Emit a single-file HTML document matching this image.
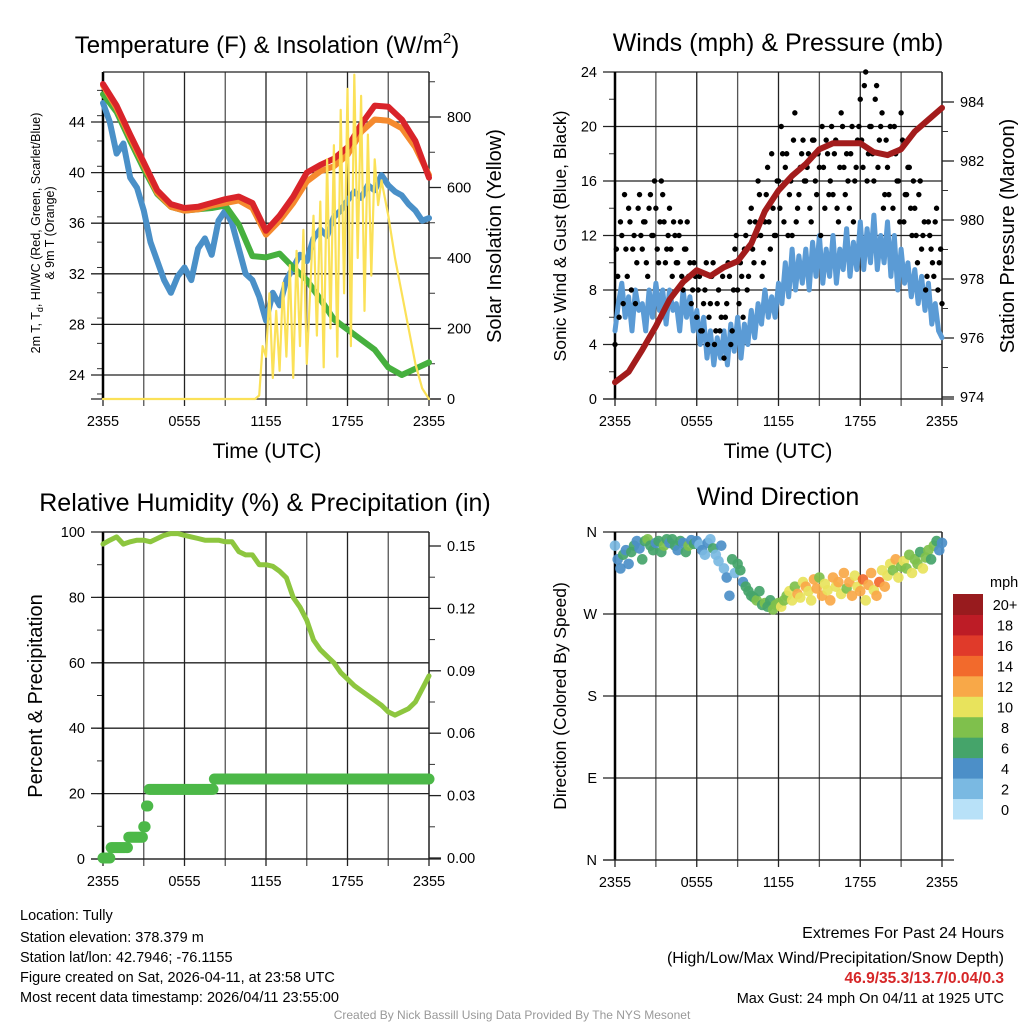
<!DOCTYPE html>
<html><head><meta charset="utf-8"><style>
html,body{margin:0;padding:0;background:#fff}
svg{display:block;font-family:"Liberation Sans",Arial,sans-serif}
</style></head><body>
<svg id="s" width="1024" height="1024" viewBox="0 0 1024 1024" xmlns="http://www.w3.org/2000/svg">
<rect width="1024" height="1024" fill="#fff"/>
<text x="267" y="53" font-size="24" text-anchor="middle">Temperature (F) &amp; Insolation (W/m<tspan dy="-10" font-size="15">2</tspan><tspan dy="10">)</tspan></text>
<text x="778" y="51" font-size="25" text-anchor="middle">Winds (mph) &amp; Pressure (mb)</text>
<text x="265" y="511" font-size="25" text-anchor="middle">Relative Humidity (%) &amp; Precipitation (in)</text>
<text x="778" y="505" font-size="25" text-anchor="middle">Wind Direction</text>
<text x="267" y="458" font-size="21" text-anchor="middle">Time (UTC)</text>
<text x="778" y="458" font-size="21" text-anchor="middle">Time (UTC)</text>
<text transform="translate(40,233) rotate(-90)" font-size="12.5" text-anchor="middle">2m T, T<tspan dy="3" font-size="9">d</tspan><tspan dy="-3">, HI/WC (Red, Green, Scarlet/Blue)</tspan></text>
<text transform="translate(54,233) rotate(-90)" font-size="12.5" text-anchor="middle">&amp; 9m T (Orange)</text>
<text transform="translate(501,236) rotate(-90)" font-size="20" text-anchor="middle">Solar Insolation (Yellow)</text>
<text transform="translate(566,236) rotate(-90)" font-size="17.5" text-anchor="middle">Sonic Wind &amp; Gust (Blue, Black)</text>
<text transform="translate(1014,236) rotate(-90)" font-size="20" text-anchor="middle">Station Pressure (Maroon)</text>
<text transform="translate(42,696) rotate(-90)" font-size="20" text-anchor="middle">Percent &amp; Precipitation</text>
<text transform="translate(566,696) rotate(-90)" font-size="17.5" text-anchor="middle">Direction (Colored By Speed)</text>
<g font-size="14.5">
<text x="20" y="920">Location: Tully</text>
<text x="20" y="942">Station elevation: 378.379 m</text>
<text x="20" y="962">Station lat/lon: 42.7946; -76.1155</text>
<text x="20" y="982">Figure created on Sat, 2026-04-11, at 23:58 UTC</text>
<text x="20" y="1002">Most recent data timestamp: 2026/04/11 23:55:00</text>
</g>
<g text-anchor="end">
<text x="1004" y="938" font-size="16">Extremes For Past 24 Hours</text>
<text x="1004" y="963" font-size="16">(High/Low/Max Wind/Precipitation/Snow Depth)</text>
<text x="1004" y="983" font-size="15.5" font-weight="bold" fill="#d62728">46.9/35.3/13.7/0.04/0.3</text>
<text x="1004" y="1003" font-size="14.5">Max Gust: 24 mph On 04/11 at 1925 UTC</text>
</g>
<text x="512" y="1019" font-size="12" fill="#999" text-anchor="middle">Created By Nick Bassill Using Data Provided By The NYS Mesonet</text>
</svg>
<script>
// ---- data ----
const hours = [0,1,2,3,4,5,6,7,8,9,10,11,12,13,14,15,16,17,18,19,20,21,22,23,24];
const tempRed = [47,45.3,43.0,40.8,38.6,37.5,37.2,37.3,37.6,37.9,38.1,37.6,35.4,36.6,38.1,40.0,40.6,41.1,42.0,43.8,45.3,45.2,44.2,42.5,39.6];
const tempOrange = [46.9,45.1,42.8,40.6,38.4,37.3,37.0,37.1,37.4,37.6,37.8,37.2,35.1,36.2,37.6,39.3,40.1,40.5,41.4,43.2,44.2,44.1,43.5,42.0,39.8];
const heatIndexGreen = [46.2,44.8,42.5,40.3,38.3,37.3,37.0,37.1,37.2,37.4,35.9,33.4,33.3,33.6,32.5,31.5,30.0,28.4,27.6,26.8,26.0,24.6,24.0,24.5,25.0];
const halfHours = [0,0.5,1,1.5,2,2.5,3,3.5,4,4.5,5,5.5,6,6.5,7,7.5,8,8.5,9,9.5,10,10.5,11,11.5,12,12.5,13,13.5,14,14.5,15,15.5,16,16.5,17,17.5,18,18.5,19,19.5,20,20.5,21,21.5,22,22.5,23,23.5,24];
const dewBlue = [45.5,44,41.5,42.3,39.6,38.8,37,34.5,33,31.5,30.5,31.8,32.5,31.5,34,34.8,33.5,36.2,37,36,34,32,31.5,30.2,28.3,30.5,29.5,31.5,32.5,33.5,33,34.8,35.5,35,36.5,37,37.8,38.5,38,39,38.6,39.8,39,38.5,38.2,37.5,37,36.2,36.4];
const insolTimes = [0,11.2,11.5,11.75,12,12.25,12.5,12.75,13,13.25,13.5,13.75,14,14.25,14.5,14.75,15,15.25,15.5,15.75,16,16.25,16.5,16.75,17,17.25,17.5,17.75,18,18.25,18.5,18.75,19,19.25,19.5,19.75,20,20.25,20.5,21,21.5,22,22.5,23,23.5,24];
const insolValues = [0,0,10,150,120,300,60,250,80,330,120,380,60,420,150,480,100,300,520,180,560,90,680,200,720,120,820,300,880,150,920,400,860,250,750,350,680,550,620,520,400,300,200,100,30,0];
const tempTicks = [24,28,32,36,40,44];
const insolTicks = [0,200,400,600,800];
const timeLabels = ["2355","0555","1155","1755","2355"];

const pressure = [974.5,974.85,975.6,976.4,977.3,977.9,978.3,978.1,978.4,978.6,979.2,980.3,981.0,981.5,981.9,982.4,982.6,982.6,982.6,982.3,982.2,982.4,983.0,983.4,983.8];
const sonicWind = [5,7,8.5,6,7.5,5,8,6.5, 7,5,8,6,8.5,6.5,8,5.5, 8,6.5,7,5,8,6,7.5,5, 6.5,4,6,3,5,2.5,4.5,3, 5,2.5,5.5,3.5,6,3,5.5,4, 6.5,4.5,7,5.5,8,6,7.5,6, 8.5,7,10,7.5,11,8,10.5,8.5, 11,8,11.5,9,12,8.5,11,9, 12,8.5,11,9.5,12.5,9,11.5,9.5, 13,9.5,12.5,10,13.5,9.5,12,10, 13,9,12,8,11,8.5,10,7.5, 9.5,7,9,6.5,8.5,5.5,7,5,4.5];
const gusts = [4,9,13,7,11,14,8,12,10,15, 11,13,9,15,12,14,10,16,13,11, 14,9,12,10,13,8,11,9,7,10, 6,9,5,8,4,7,10,5,8,6, 3,7,9,5,11,8,10,6,12,9, 14,10,12,15,9,13,17,11,14,12, 16,20,13,18,15,12,21,14,17,19, 16,18,13,19,15,17,20,14,18,16, 15,19,13,21,17,18,14,20,16,19, 22,17,24,18,20,16,23,19,21,15, 17,20,14,18,16,21,13,15,17,12, 14,10,16,12,8,13,11,9,14,10,7];
const gustsOffset = [11,6,12,15,9,13,11,7,14,12, 13,10,14,12,16,11,13,15,10,12, 11,13,10,12,9,11,13,10,8,9, 8,5,7,10,6,9,4,7,5,9, 6,10,4,8,12,7,9,11,8,13, 11,13,16,12,10,15,13,18,12,16, 14,18,17,12,16,19,13,15,18,16, 17,14,19,16,18,12,17,19,15,20, 18,14,17,20,15,16,18,13,17,20, 19,23,16,20,18,22,17,20,14,19, 15,18,20,16,13,19,15,17,14,16, 12,15,11,13,9,12,10,13,8,11];
const windTicks = [0,4,8,12,16,20,24];
const pressTicks = [974,976,978,980,982,984];

const rhTimes = [0,0.5,1,1.5,2,2.5,3,3.5,4,4.5,5,5.5,6,6.5,7,7.5,8,8.5,9,9.5,10,10.5,11,11.5,12,12.5,13,13.5,14,14.5,15,15.5,16,16.5,17,17.5,18,18.5,19,19.5,20,20.5,21,21.5,22,22.5,23,23.5,24];
const rhValues = [96.3,97.5,98.5,96.3,97,97.5,97.5,97,98,99,99.5,99.5,99,98.5,98,97.5,97.5,97.5,97,97,94,93,93,90,90,89.5,88,86,80,77,73,67,64,62,60,57,55,53,51.5,50,48.5,47,45,44,45,46,48,52,56];
const precipStepTimes = [0,0.6,1.9,3.0,3.2,3.4,8.1];
const precipStepValues = [0,0.005,0.01,0.015,0.025,0.033,0.038];
const rhTicks = [0,20,40,60,80,100];
const precipTicks = ["0.00","0.03","0.06","0.09","0.12","0.15"];

const dirValues = [345,330,320,335,340,325,338,345,350,342, 330,350,352,345,340,348,350,338,345,352, 348,352,345,340,350,348,338,345,351,347, 350,346,340,335,348,352,342,335,328,345, 320,310,290,330,315,325,318,305,300,295, 290,288,285,295,280,282,278,285,275,280, 282,278,285,290,295,285,300,292,288,305, 300,295,285,308,298,310,290,303,296,285, 310,300,305,292,315,298,305,290,312,300, 295,308,285,302,315,296,290,305,318,300, 312,325,318,330,310,322,328,320,335,315, 330,325,338,320,332,340,330,345,350,340,348];
const dirSpeeds = [3,5,4,6,5,4,7,6,5,4, 6,7,8,6,7,5,6,7,8,6, 5,6,7,5,6,4,6,8,5,7, 4,3,5,2,4,3,6,2,3,4, 2,5,4,6,3,7,6,5,6,7, 6,7,8,6,7,8,7,6,8,9, 8,10,9,8,10,11,9,12,10,11, 12,11,10,13,12,9,12,11,10,13, 12,10,13,11,12,9,13,12,11,10, 12,14,11,13,12,10,12,15,11,12, 10,11,9,12,10,8,11,9,8,10, 8,9,7,10,8,9,7,8,6,5,4];
const dirLabels = ["N","W","S","E","N"];
const speedLabels = ["0","2","4","6","8","10","12","14","16","18","20+"];
const speedColors = ["#b8e1f8","#7ab9e2","#4c8fc8","#45a46a","#7fc04c","#e8e35c","#f8a848","#f26a2c","#e03a2a","#bd1c26","#981b1e"];

// ---- helpers ----
const NS="http://www.w3.org/2000/svg";
const svg=document.getElementById('s');
function mk(tag,attrs,parent){const e=document.createElementNS(NS,tag);for(const k in attrs)e.setAttribute(k,attrs[k]);(parent||svg).appendChild(e);return e;}
function lin(d0,d1,r0,r1){return v=>r0+(v-d0)*(r1-r0)/(d1-d0);}

function panelFrame(name,x0,x1,y0,y1,yTicks,yFn,yLabelFn,minorStep,yMin,yMax){
  const g=mk('g',{});
  
  
  for(let h=0;h<=24;h+=3){
    const x=lin(0,24,x0,x1)(h);
    const l=mk('line',{x1:x,x2:x,y1:y0,y2:y1+7,stroke:(h%6===0)?'#222':'#555','stroke-width':1.3},g);
    
    
  }
  for(let i=0;i<timeLabels.length;i++){
    const x=lin(0,24,x0,x1)(i*6);
    const t=mk('text',{x:x,y:y1+27,'font-size':14.5,'text-anchor':'middle'},g);
    t.textContent=timeLabels[i];
    
    
  }
  for(let v=yMin;v<=yMax+1e-9;v+=minorStep){
    const y=yFn(v);
    const l=mk('line',{x1:x0-6,x2:x0,y1:y,y2:y,stroke:'#333','stroke-width':1},g);
    
    
  }
  yTicks.forEach((v,i)=>{
    const y=yFn(v);
    const l=mk('line',{x1:x0-12,x2:x1,y1:y,y2:y,stroke:'#222','stroke-width':1.3},g);
    
    
    const t=mk('text',{x:x0-18,y:y+5,'font-size':14.5,'text-anchor':'end'},g);
    t.textContent=yLabelFn?yLabelFn(v,i):v;
    
    
  });
  const L=mk('line',{x1:x0,x2:x0,y1:y0,y2:y1,stroke:'#000','stroke-width':2.5},g);
  
  
  const B=mk('line',{x1:x0-12,x2:x1+12,y1:y1,y2:y1,stroke:'#222','stroke-width':1.3},g);
  
  
  const R=mk('line',{x1:x1,x2:x1,y1:y0,y2:y1,stroke:'#222','stroke-width':1.3},g);
  
  
  return g;
}
function rightTicks(name,x1,fn,vals,labels,minorVals){
  minorVals.forEach(v=>{const y=fn(v);const l=mk('line',{x1:x1,x2:x1+6,y1:y,y2:y,stroke:'#333','stroke-width':1});
    
    });
  vals.forEach((v,i)=>{const y=fn(v);const l=mk('line',{x1:x1,x2:x1+12,y1:y,y2:y,stroke:'#222','stroke-width':1.3});
    
    
    const t=mk('text',{x:x1+18,y:y+5,'font-size':14.5});t.textContent=labels[i];
    
    });
}
function poly(xs,ys,xFn,yFn,color,w,name){
  const pts=xs.map((x,i)=>xFn(x).toFixed(1)+','+yFn(ys[i]).toFixed(1)).join(' ');
  const p=mk('polyline',{points:pts,fill:'none',stroke:color,'stroke-width':w,'stroke-linejoin':'round','stroke-linecap':'round'});
  
  
  return p;
}

// ---- Panel 1 ----
{
  const x=lin(0,24,103,429), y=lin(44,24,122,375), yi=lin(0,800,399,117);
  panelFrame('temp',103,429,72,399,tempTicks,y,null,2,22.5,47.5);
  mk('line',{x1:103,x2:429,y1:72,y2:72,stroke:'#222','stroke-width':1.3});
  rightTicks('insolation',429,yi,insolTicks,insolTicks.map(String),[100,300,500,700,900]);
  poly(halfHours,dewBlue,x,y,'#4a90c8',6,'dewpoint-line');
  poly(hours,heatIndexGreen,x,y,'#46b03e',6,'heat-index-line');
  poly(hours,tempOrange,x,y,'#f58a2e',6,'temp-9m-line');
  poly(hours,tempRed,x,y,'#d9242a',6,'temp-2m-line');
  poly(insolTimes,insolValues,x,yi,'#fbe158',2.2,'insolation-line');
}
// ---- Panel 2 ----
{
  const x=lin(0,24,615,942), y=lin(0,24,399,72), yp=lin(974,984,397,102);
  panelFrame('wind',615,942,72,399,windTicks,y,null,2,0,24);
  rightTicks('pressure',942,yp,pressTicks,pressTicks.map(String),[975,977,979,981,983]);
  poly(sonicWind.map((v,i)=>i*0.25),sonicWind,x,y,'#5b9bd5',5,'sonic-wind-line');
  gusts.forEach((g,i)=>{
    const c=mk('circle',{cx:x(i*0.2),cy:y(g),r:2.7,fill:'#000'});
    
    
  });
  gustsOffset.forEach((g,i)=>{
    const c=mk('circle',{cx:x(i*0.2+0.1),cy:y(g),r:2.7,fill:'#000'});
    
    
  });
  poly(hours,pressure,x,yp,'#a31c1c',6,'pressure-line');
}
// ---- Panel 3 ----
{
  const x=lin(0,24,103,429), y=lin(0,100,859,532), yp=lin(0,0.15,858,546);
  panelFrame('humidity',103,429,532,859,rhTicks,y,null,10,0,100);
  mk('line',{x1:103,x2:429,y1:532,y2:532,stroke:'#222','stroke-width':1.3});
  rightTicks('precip',429,yp,precipTicks.map(Number),precipTicks,[0.015,0.045,0.075,0.105,0.135]);
  poly(rhTimes,rhValues,x,y,'#8dc63f',5,'humidity-line');
  for(let t=0;t<=24.001;t+=0.1){
    let v=0;for(let k=0;k<precipStepTimes.length;k++)if(t>=precipStepTimes[k])v=precipStepValues[k];
    const c=mk('circle',{cx:x(t),cy:yp(v),r:5.5,fill:'#4cb848'});
    
    
  }
}
// ---- Panel 4 ----
{
  const x=lin(0,24,615,942), y=lin(0,360,860,532);
  panelFrame('direction',615,942,532,860,[0,90,180,270,360],y,(v,i)=>dirLabels[4-i],1000,0,0);
  dirValues.forEach((d,i)=>{
    const idx=Math.min(10,Math.floor(dirSpeeds[i]/2));
    const c=mk('circle',{cx:x(i*0.2),cy:y(d),r:5.3,fill:speedColors[idx],'fill-opacity':0.92});
    
    
  });
  const t=mk('text',{x:990,y:587,'font-size':14.5,'text-anchor':'start'});t.textContent='mph';
  
  
  const h=(819-594)/11;
  for(let i=0;i<11;i++){
    const yy=594+(10-i)*h;
    const r=mk('rect',{x:953,y:yy,width:30,height:h+0.5,fill:speedColors[i]});
    
    
    const l=mk('text',{x:1005,y:yy+h/2+6,'font-size':14.5,'text-anchor':'middle'});l.textContent=speedLabels[i];
    
    
  }
}
</script>
</body></html>
